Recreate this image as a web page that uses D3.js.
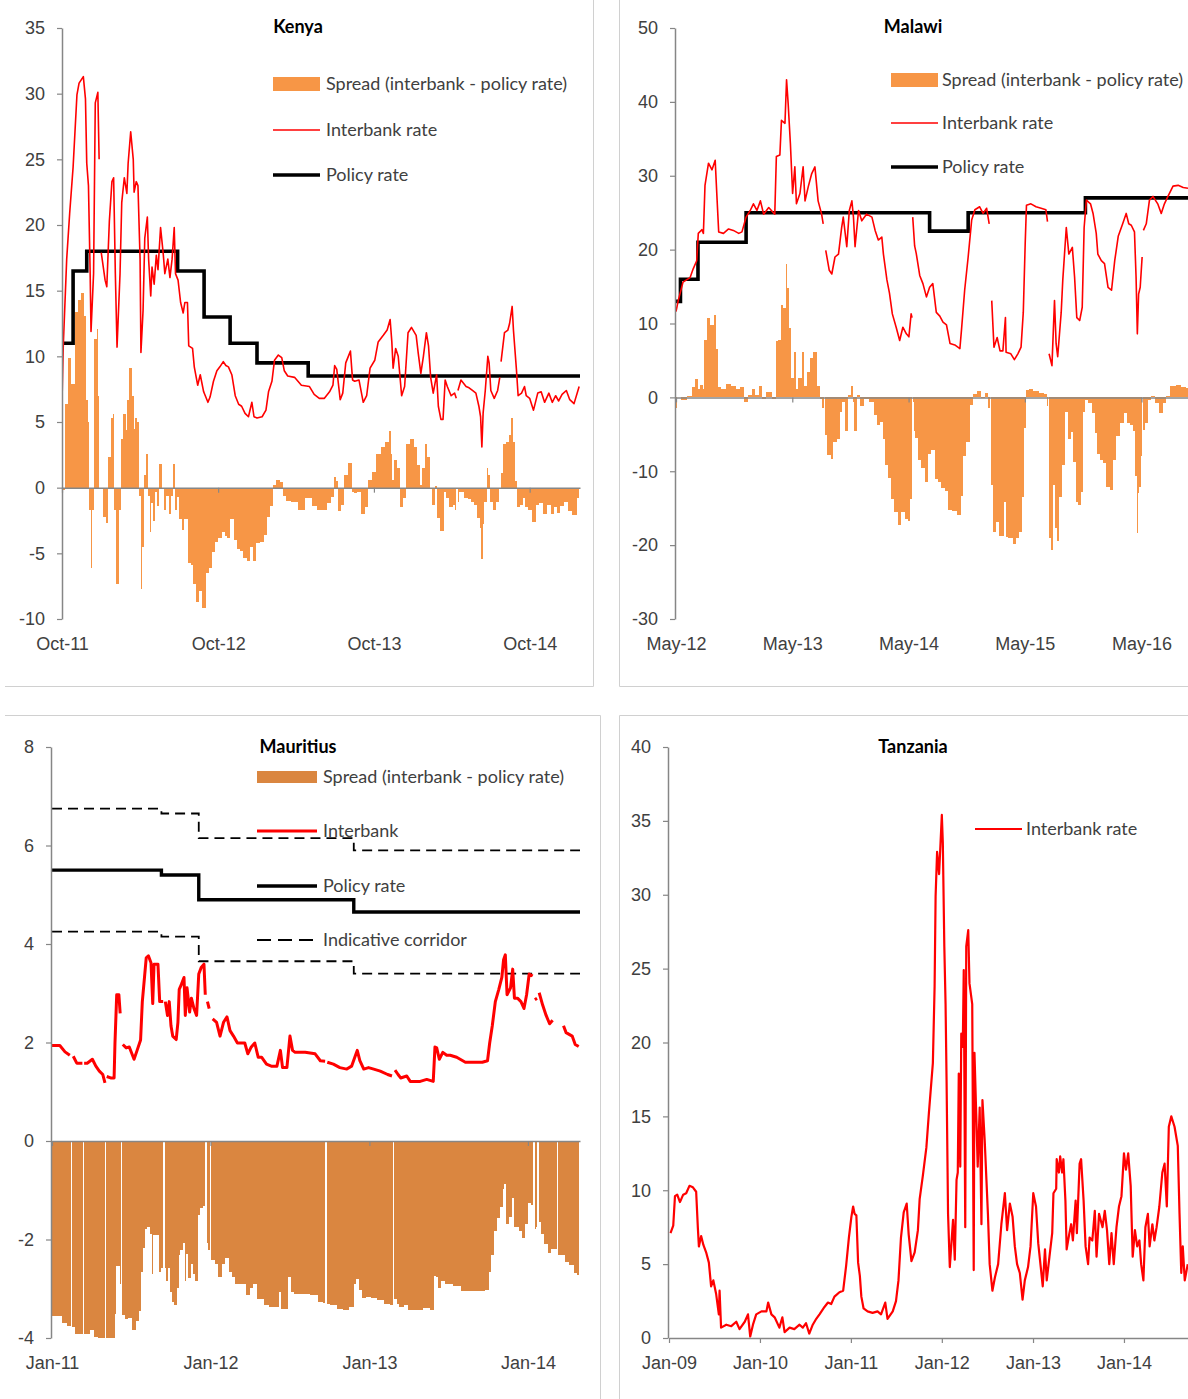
<!DOCTYPE html>
<html>
<head>
<meta charset="utf-8">
<script src="https://cdnjs.cloudflare.com/ajax/libs/d3/7.8.5/d3.min.js"></script>
<style>
  body { margin: 0; background: #fff; }
  svg { display: block; font-family: Lato, "Open Sans", sans-serif; }
</style>
</head>
<body>
<svg id="chart" width="1188" height="1399"></svg>
<script>
// ---------- data ----------
const kenyaInterbank = [
  ["2011-10-01",6.6],["2011-10-04",10.8],["2011-10-12",17.4],["2011-10-19",20.9],["2011-10-27",24.4],
  ["2011-11-05",29.9],["2011-11-10",30.8],["2011-11-20",31.3],["2011-11-25",29.6],["2011-11-28",24.7],
  ["2011-12-02",23.0],["2011-12-06",16.3],["2011-12-08",11.9],["2011-12-14",16.3],["2011-12-18",29.3],
  ["2011-12-24",30.1],["2011-12-27",25.0],["2011-12-29",null],["2012-01-01",17.9],["2012-01-10",15.8],
  ["2012-01-14",15.3],["2012-01-20",20.3],["2012-01-26",23.3],["2012-01-30",23.6],["2012-02-03",16.3],
  ["2012-02-07",10.7],["2012-02-14",16.3],["2012-02-18",21.7],["2012-02-24",23.6],["2012-03-01",22.4],
  ["2012-03-04",24.7],["2012-03-10",27.1],["2012-03-16",25.0],["2012-03-18",22.5],["2012-03-23",23.3],
  ["2012-03-27",23.0],["2012-04-01",17.4],["2012-04-03",10.3],["2012-04-08",13.5],["2012-04-12",19.0],
  ["2012-04-18",20.6],["2012-04-21",17.4],["2012-04-26",14.6],["2012-04-29",16.8],["2012-05-04",15.5],
  ["2012-05-09",17.7],["2012-05-13",16.6],["2012-05-19",19.8],["2012-05-25",17.9],["2012-05-29",16.3],
  ["2012-06-05",17.4],["2012-06-10",16.0],["2012-06-15",17.4],["2012-06-20",19.8],["2012-06-23",16.3],
  ["2012-06-29",15.8],["2012-07-05",14.1],["2012-07-11",13.3],["2012-07-15",14.1],["2012-07-21",14.1],
  ["2012-07-24",10.8],["2012-08-02",10.6],["2012-08-06",9.2],["2012-08-14",7.8],["2012-08-20",8.6],
  ["2012-08-28",7.3],["2012-09-07",6.5],["2012-09-12",6.9],["2012-09-20",8.1],["2012-09-28",8.9],
  ["2012-10-05",9.2],["2012-10-13",9.6],["2012-10-19",9.3],["2012-10-25",9.2],["2012-11-02",8.6],
  ["2012-11-10",7.0],["2012-11-18",6.35],["2012-11-25",6.2],["2012-12-03",5.66],["2012-12-11",5.4],
  ["2012-12-19",6.5],["2012-12-24",5.4],["2012-12-31",5.3],["2013-01-12",5.4],["2013-01-21",5.9],
  ["2013-01-27",7.3],["2013-02-04",8.1],["2013-02-10",9.7],["2013-02-19",10.1],["2013-02-27",9.9],
  ["2013-03-05",8.9],["2013-03-13",8.5],["2013-03-29",8.4],["2013-04-14",7.8],["2013-05-03",7.7],
  ["2013-05-14",7.1],["2013-05-26",6.8],["2013-06-07",6.8],["2013-06-19",7.3],["2013-06-27",7.8],
  ["2013-07-01",9.3],["2013-07-06",9.0],["2013-07-14",6.7],["2013-07-20",7.2],["2013-07-27",9.5],
  ["2013-08-07",10.4],["2013-08-12",8.2],["2013-08-17",8.1],["2013-08-27",8.2],["2013-09-06",6.5],
  ["2013-09-14",7.0],["2013-09-22",9.1],["2013-10-03",9.7],["2013-10-11",11.1],["2013-10-23",11.6],
  ["2013-11-01",12.0],["2013-11-08",12.8],["2013-11-12",11.1],["2013-11-15",9.1],["2013-11-21",10.6],
  ["2013-11-27",10.0],["2013-12-05",7.0],["2013-12-12",7.7],["2013-12-20",11.8],["2013-12-28",12.2],
  ["2014-01-08",11.6],["2014-01-13",10.2],["2014-01-19",8.7],["2014-01-25",10.0],["2014-02-01",11.8],
  ["2014-02-06",10.8],["2014-02-11",8.4],["2014-02-17",7.2],["2014-02-25",8.6],["2014-03-01",6.2],
  ["2014-03-07",5.2],["2014-03-12",5.2],["2014-03-17",8.2],["2014-03-22",7.7],["2014-03-31",7.0],
  ["2014-04-08",7.2],["2014-04-12",6.8],["2014-04-14",null],["2014-04-16",7.4],["2014-04-23",8.2],
  ["2014-05-05",7.7],["2014-05-12",7.6],["2014-05-20",7.4],["2014-05-28",7.2],["2014-06-04",6.2],
  ["2014-06-08",5.4],["2014-06-11",3.1],["2014-06-14",5.7],["2014-06-19",7.4],["2014-06-25",10.0],
  ["2014-06-28",9.5],["2014-07-02",7.4],["2014-07-10",6.8],["2014-07-18",7.4],["2014-07-23",8.4],
  ["2014-07-24",null],["2014-07-26",9.6],["2014-08-03",11.8],["2014-08-11",12.0],["2014-08-15",12.5],
  ["2014-08-21",13.8],["2014-08-24",12.0],["2014-08-31",9.0],["2014-09-04",7.0],["2014-09-12",7.2],
  ["2014-09-19",7.7],["2014-09-23",7.0],["2014-10-01",6.8],["2014-10-10",5.9],["2014-10-20",7.2],
  ["2014-10-28",7.3],["2014-11-05",6.5],["2014-11-15",7.2],["2014-11-23",6.5],["2014-12-01",7.0],
  ["2014-12-08",6.6],["2014-12-16",7.1],["2014-12-26",7.4],["2015-01-03",6.7],["2015-01-13",6.4],
  ["2015-01-25",7.7]
];
const kenyaPolicy = [
  ["2011-10-01",11],["2011-10-27",16.5],["2011-11-28",18],["2012-06-28",16.5],["2012-08-29",13],
  ["2012-10-29",11],["2012-12-31",9.5],["2013-04-30",8.5],["2015-01-27",8.5]
];

const malawiInterbank = [
  ["2012-05-01",11.6],["2012-05-08",13.1],["2012-05-23",15.6],["2012-06-14",16.2],["2012-06-24",17.4],
  ["2012-07-05",18.5],["2012-07-10",22.2],["2012-07-21",22.7],["2012-07-26",22.2],["2012-07-31",28.7],
  ["2012-08-11",31.7],["2012-08-22",30.8],["2012-09-01",32.1],["2012-09-06",27.6],["2012-09-12",22.4],
  ["2012-09-27",22.2],["2012-10-13",22.8],["2012-10-28",22.6],["2012-11-14",22.2],["2012-11-24",22.4],
  ["2012-12-07",24.4],["2012-12-20",25.3],["2012-12-30",26.2],["2013-01-10",25.3],["2013-01-21",26.6],
  ["2013-01-31",24.8],["2013-02-16",25.7],["2013-03-07",24.8],["2013-03-12",32.6],["2013-03-23",32.8],
  ["2013-03-28",37.5],["2013-04-08",37.1],["2013-04-13",43.0],["2013-04-18",39.8],["2013-04-25",34.4],
  ["2013-05-02",27.6],["2013-05-09",31.2],["2013-05-14",26.2],["2013-05-25",27.6],["2013-06-04",31.2],
  ["2013-06-10",26.6],["2013-06-20",28.5],["2013-07-01",30.3],["2013-07-11",31.2],["2013-07-21",26.6],
  ["2013-08-01",24.8],["2013-08-06",23.5],["2013-08-09",null],["2013-08-14",19.9],["2013-08-25",17.2],
  ["2013-09-02",16.7],["2013-09-12",19.0],["2013-09-23",19.4],["2013-10-03",23.0],["2013-10-08",24.4],
  ["2013-10-19",20.4],["2013-10-27",25.3],["2013-11-04",26.6],["2013-11-09",24.4],["2013-11-14",20.4],
  ["2013-11-25",25.3],["2013-12-05",23.9],["2013-12-20",24.8],["2014-01-06",24.4],["2014-01-16",22.6],
  ["2014-01-26",21.3],["2014-02-06",21.7],["2014-02-11",19.4],["2014-02-22",15.9],["2014-03-02",14.1],
  ["2014-03-11",11.3],["2014-03-23",9.5],["2014-04-03",7.7],["2014-04-13",9.5],["2014-04-24",8.6],
  ["2014-05-02",8.2],["2014-05-09",11.3],["2014-05-12",10.8],["2014-05-13",null],["2014-05-14",24.4],
  ["2014-05-20",20.5],["2014-05-25",19.5],["2014-06-05",16.5],["2014-06-15",15.4],["2014-06-26",13.6],
  ["2014-07-06",14.9],["2014-07-16",15.4],["2014-07-27",11.5],["2014-08-07",11.0],["2014-08-17",10.2],
  ["2014-08-28",9.8],["2014-09-08",7.3],["2014-09-23",7.1],["2014-10-09",6.6],["2014-10-14",9.1],
  ["2014-10-24",14.5],["2014-11-04",19.0],["2014-11-15",24.0],["2014-11-25",25.4],["2014-12-10",25.8],
  ["2014-12-21",24.9],["2015-01-01",25.6],["2015-01-09",23.5],["2015-01-12",null],["2015-01-17",13.1],
  ["2015-01-24",6.8],["2015-02-03",8.1],["2015-02-12",6.3],["2015-02-21",6.3],["2015-03-01",10.8],
  ["2015-03-03",6.1],["2015-03-18",5.9],["2015-03-29",5.1],["2015-04-09",5.9],["2015-04-19",6.8],
  ["2015-04-26",11.5],["2015-05-02",20.8],["2015-05-06",26.0],["2015-05-20",26.2],["2015-06-05",25.8],
  ["2015-06-21",25.6],["2015-07-06",25.4],["2015-07-11",23.8],["2015-07-13",null],["2015-07-16",5.9],
  ["2015-07-25",4.3],["2015-08-02",13.1],["2015-08-07",7.3],["2015-08-12",5.5],["2015-08-23",11.5],
  ["2015-08-28",15.9],["2015-09-08",23.0],["2015-09-16",19.4],["2015-09-27",20.3],["2015-10-04",16.3],
  ["2015-10-11",10.8],["2015-10-20",10.4],["2015-10-28",12.2],["2015-11-03",23.0],["2015-11-10",26.7],
  ["2015-11-23",26.2],["2015-12-01",24.9],["2015-12-11",22.2],["2015-12-16",19.4],["2015-12-27",18.5],
  ["2016-01-06",18.1],["2016-01-17",14.9],["2016-01-28",14.5],["2016-02-07",18.5],["2016-02-18",21.8],
  ["2016-03-03",23.5],["2016-03-14",24.9],["2016-03-22",23.5],["2016-03-30",23.3],["2016-04-09",22.4],
  ["2016-04-14",16.3],["2016-04-18",8.6],["2016-04-22",14.0],["2016-04-27",14.9],["2016-05-03",19.0],
  ["2016-05-05",null],["2016-05-07",22.6],["2016-05-16",23.5],["2016-05-26",26.7],["2016-06-06",27.2],
  ["2016-06-21",26.2],["2016-07-02",24.9],["2016-07-12",26.2],["2016-07-23",27.2],["2016-08-08",28.6],
  ["2016-08-24",28.7],["2016-09-09",28.4],["2016-09-24",28.3]
];
const malawiPolicy = [
  ["2012-05-01",13],["2012-05-15",16],["2012-07-09",21],["2012-12-07",25],["2014-07-06",22.5],
  ["2014-11-04",25],["2015-11-07",27],["2016-09-30",27]
];

const mauritiusInterbank = [
  ["2011-01-01",1.94],["2011-01-19",1.94],["2011-01-31",1.81],["2011-02-11",1.74],["2011-02-15",null],
  ["2011-02-19",1.72],["2011-02-27",1.58],["2011-03-12",1.58],["2011-03-14",null],["2011-03-16",1.58],
  ["2011-03-23",1.58],["2011-04-04",1.66],["2011-04-12",1.52],["2011-04-20",1.42],["2011-04-28",1.35],
  ["2011-05-03",1.18],["2011-05-05",null],["2011-05-07",1.31],["2011-05-16",1.28],["2011-05-24",1.28],
  ["2011-05-26",1.98],["2011-05-30",2.97],["2011-06-04",2.97],["2011-06-07",2.59],["2011-06-10",null],
  ["2011-06-13",1.96],["2011-06-21",1.89],["2011-06-28",1.91],["2011-07-09",1.66],["2011-07-16",1.84],
  ["2011-07-24",2.05],["2011-07-28",2.83],["2011-08-02",3.32],["2011-08-06",3.72],["2011-08-11",3.76],
  ["2011-08-17",3.62],["2011-08-21",2.79],["2011-08-24",3.59],["2011-09-02",3.59],["2011-09-06",2.83],
  ["2011-09-14",2.83],["2011-09-16",null],["2011-09-19",2.83],["2011-09-24",2.55],["2011-09-28",2.83],
  ["2011-10-02",2.34],["2011-10-06",2.13],["2011-10-14",2.06],["2011-10-18",2.41],["2011-10-21",3.08],
  ["2011-10-26",3.18],["2011-11-01",3.32],["2011-11-04",2.55],["2011-11-08",3.11],["2011-11-14",2.62],
  ["2011-11-18",2.90],["2011-11-24",2.69],["2011-11-30",2.55],["2011-12-05",3.39],["2011-12-11",3.53],
  ["2011-12-17",3.59],["2011-12-20",2.97],["2011-12-22",null],["2011-12-25",2.83],["2011-12-29",2.69],
  ["2012-01-01",null],["2012-01-06",2.48],["2012-01-15",2.41],["2012-01-23",2.13],["2012-01-31",2.41],
  ["2012-02-08",2.52],["2012-02-15",2.24],["2012-02-23",2.13],["2012-03-03",1.99],["2012-03-12",1.99],
  ["2012-03-20",1.99],["2012-03-27",1.77],["2012-04-04",1.91],["2012-04-12",1.99],["2012-04-20",1.70],
  ["2012-04-28",1.70],["2012-05-09",1.56],["2012-05-20",1.52],["2012-06-02",1.52],["2012-06-10",1.84],
  ["2012-06-15",1.49],["2012-06-25",1.49],["2012-07-02",2.13],["2012-07-08",1.84],["2012-07-14",1.80],
  ["2012-08-06",1.80],["2012-08-29",1.77],["2012-09-10",1.63],["2012-09-21",1.62],["2012-09-23",null],
  ["2012-09-26",1.60],["2012-10-10",1.56],["2012-10-25",1.49],["2012-11-10",1.46],["2012-11-21",1.52],
  ["2012-11-30",1.74],["2012-12-04",1.84],["2012-12-10",1.63],["2012-12-19",1.46],["2012-12-30",1.49],
  ["2013-01-11",1.46],["2013-01-26",1.42],["2013-02-12",1.35],["2013-02-22",1.32],["2013-02-26",null],
  ["2013-03-01",1.44],["2013-03-08",1.35],["2013-03-14",1.28],["2013-03-28",1.32],["2013-04-05",1.21],
  ["2013-04-28",1.21],["2013-05-13",1.25],["2013-05-28",1.21],["2013-06-01",1.91],["2013-06-05",1.89],
  ["2013-06-11",1.66],["2013-06-19",1.80],["2013-06-28",1.74],["2013-07-06",1.74],["2013-07-21",1.70],
  ["2013-08-10",1.60],["2013-08-29",1.60],["2013-09-18",1.60],["2013-09-30",1.63],["2013-10-05",1.99],
  ["2013-10-11",2.34],["2013-10-18",2.83],["2013-10-26",3.08],["2013-11-02",3.32],["2013-11-06",3.68],
  ["2013-11-10",3.78],["2013-11-14",2.97],["2013-11-22",3.11],["2013-11-27",3.49],["2013-12-01",2.90],
  ["2013-12-08",2.90],["2013-12-16",2.83],["2013-12-23",2.69],["2013-12-29",2.97],["2014-01-04",3.39],
  ["2014-01-12",3.35],["2014-01-15",null],["2014-01-17",2.87],["2014-01-22",2.90],["2014-01-24",null],
  ["2014-01-27",3.01],["2014-02-04",2.76],["2014-02-12",2.55],["2014-02-20",2.38],["2014-02-27",2.45],
  ["2014-03-10",null],["2014-03-24",2.34],["2014-03-30",2.20],["2014-04-13",2.13],["2014-04-20",1.96],
  ["2014-04-28",1.92]
];
const mauritiusPolicy = [
  ["2011-01-01",5.5],["2011-09-10",5.4],["2011-12-05",4.9],["2012-11-26",4.65],["2014-05-01",4.65]
];
const mauritiusCorridorUpper = [
  ["2011-01-01",6.75],["2011-09-10",6.65],["2011-12-05",6.15],["2012-11-26",5.9],["2014-05-01",5.9]
];
const mauritiusCorridorLower = [
  ["2011-01-01",4.25],["2011-09-10",4.15],["2011-12-05",3.65],["2012-11-26",3.4],["2014-05-01",3.4]
];

const tanzaniaInterbank = [
  ["2009-01-07",7.1],["2009-01-18",7.6],["2009-01-25",9.6],["2009-02-03",9.7],["2009-02-14",9.2],
  ["2009-02-27",9.7],["2009-03-11",9.8],["2009-03-24",10.3],["2009-04-07",10.2],["2009-04-20",9.9],
  ["2009-04-27",7.4],["2009-05-01",6.2],["2009-05-10",6.9],["2009-05-19",6.3],["2009-05-30",5.8],
  ["2009-06-10",5.1],["2009-06-19",3.5],["2009-06-28",3.9],["2009-07-09",3.0],["2009-07-20",1.6],
  ["2009-07-23",3.2],["2009-07-29",0.7],["2009-08-19",0.9],["2009-09-08",0.8],["2009-09-28",1.1],
  ["2009-10-11",0.6],["2009-11-01",1.1],["2009-11-14",1.6],["2009-11-23",0.1],["2009-12-04",0.9],
  ["2009-12-17",1.6],["2010-01-07",1.8],["2010-01-27",1.8],["2010-02-03",2.4],["2010-02-16",1.6],
  ["2010-03-01",1.4],["2010-03-20",0.7],["2010-04-01",1.4],["2010-04-10",0.4],["2010-04-30",0.7],
  ["2010-05-19",0.6],["2010-06-09",0.9],["2010-06-22",0.7],["2010-07-05",1.0],["2010-07-18",0.3],
  ["2010-08-01",0.9],["2010-08-15",1.3],["2010-08-28",1.6],["2010-09-17",2.1],["2010-10-01",2.4],
  ["2010-10-14",2.3],["2010-10-27",2.8],["2010-11-16",3.1],["2010-12-01",3.2],["2010-12-13",4.9],
  ["2010-12-24",6.8],["2011-01-03",8.2],["2011-01-10",8.9],["2011-01-16",8.4],["2011-01-23",8.3],
  ["2011-01-30",5.1],["2011-02-06",4.2],["2011-02-12",2.8],["2011-02-21",2.0],["2011-03-09",1.8],
  ["2011-03-29",1.7],["2011-04-18",1.8],["2011-05-02",1.6],["2011-05-19",2.4],["2011-05-28",1.3],
  ["2011-06-18",1.8],["2011-07-01",2.5],["2011-07-11",3.9],["2011-07-21",6.8],["2011-08-01",8.5],
  ["2011-08-13",9.1],["2011-08-21",7.0],["2011-09-01",5.2],["2011-09-14",5.8],["2011-09-27",7.3],
  ["2011-10-04",9.4],["2011-10-17",11.0],["2011-10-31",12.9],["2011-11-10",15.2],["2011-11-26",18.6],
  ["2011-12-03",23.8],["2011-12-07",29.9],["2011-12-13",32.9],["2011-12-21",31.4],["2012-01-01",35.4],
  ["2012-01-05",33.5],["2012-01-11",26.5],["2012-01-16",22.6],["2012-01-20",17.5],["2012-01-26",8.4],
  ["2012-02-02",4.8],["2012-02-15",8.0],["2012-02-22",5.3],["2012-02-29",10.7],["2012-03-05",11.2],
  ["2012-03-09",17.9],["2012-03-15",11.6],["2012-03-19",20.6],["2012-03-25",19.7],["2012-03-29",24.9],
  ["2012-04-04",7.5],["2012-04-08",26.5],["2012-04-16",27.6],["2012-04-21",24.0],["2012-05-02",22.6],
  ["2012-05-08",4.6],["2012-05-11",19.3],["2012-05-18",15.2],["2012-05-24",11.6],["2012-06-01",15.6],
  ["2012-06-08",7.7],["2012-06-12",16.1],["2012-06-21",13.4],["2012-06-28",10.7],["2012-07-04",8.4],
  ["2012-07-11",5.0],["2012-07-22",3.2],["2012-08-01",4.1],["2012-08-14",5.0],["2012-08-27",7.7],
  ["2012-09-10",9.8],["2012-09-19",7.3],["2012-09-30",9.1],["2012-10-11",8.2],["2012-10-20",6.2],
  ["2012-10-29",5.0],["2012-11-09",4.4],["2012-11-20",2.6],["2012-11-29",3.9],["2012-12-12",4.8],
  ["2012-12-22",6.2],["2013-01-02",9.8],["2013-01-13",8.9],["2013-01-22",6.4],["2013-02-01",4.8],
  ["2013-02-09",3.5],["2013-02-18",6.0],["2013-02-25",3.9],["2013-03-08",5.5],["2013-03-19",7.1],
  ["2013-03-24",9.8],["2013-04-04",10.1],["2013-04-06",12.1],["2013-04-15",11.2],["2013-04-20",12.3],
  ["2013-04-28",11.2],["2013-05-03",12.1],["2013-05-11",9.3],["2013-05-16",6.0],["2013-05-27",7.1],
  ["2013-06-03",7.7],["2013-06-10",6.6],["2013-06-21",9.3],["2013-06-26",7.1],["2013-07-07",11.8],
  ["2013-07-13",12.1],["2013-07-23",9.3],["2013-07-31",6.2],["2013-08-10",5.0],["2013-08-16",6.8],
  ["2013-08-27",6.6],["2013-09-06",8.6],["2013-09-13",5.5],["2013-09-23",8.4],["2013-10-07",7.5],
  ["2013-10-16",8.6],["2013-10-25",7.3],["2013-11-03",5.0],["2013-11-12",7.1],["2013-11-21",5.0],
  ["2013-12-02",7.5],["2013-12-12",8.9],["2013-12-22",9.6],["2014-01-01",12.5],["2014-01-09",11.4],
  ["2014-01-18",12.5],["2014-01-28",10.3],["2014-02-05",5.5],["2014-02-14",7.3],["2014-02-23",6.2],
  ["2014-03-04",6.6],["2014-03-11",5.0],["2014-03-20",3.9],["2014-03-28",7.5],["2014-04-07",8.4],
  ["2014-04-14",6.2],["2014-04-25",7.7],["2014-05-03",6.6],["2014-05-12",7.5],["2014-05-23",8.9],
  ["2014-06-04",11.2],["2014-06-13",11.8],["2014-06-22",8.9],["2014-06-30",14.3],["2014-07-10",15.0],
  ["2014-07-23",14.3],["2014-08-05",13.0],["2014-08-12",8.4],["2014-08-19",4.4],["2014-08-25",6.2],
  ["2014-09-02",3.9],["2014-09-14",5.0]
];

// tick values and labels
const kenyaXTicks = ["2011-10-01","2012-10-01","2013-10-01","2014-10-01"];
const kenyaXLabels = ["Oct-11","Oct-12","Oct-13","Oct-14"];
const kenyaYTicks = [-10,-5,0,5,10,15,20,25,30,35];
const malawiXTicks = ["2012-05-01","2013-05-01","2014-05-01","2015-05-01","2016-05-01"];
const malawiXLabels = ["May-12","May-13","May-14","May-15","May-16"];
const malawiYTicks = [-30,-20,-10,0,10,20,30,40,50];
const mauritiusXTicks = ["2011-01-01","2012-01-01","2013-01-01","2014-01-01"];
const mauritiusXLabels = ["Jan-11","Jan-12","Jan-13","Jan-14"];
const mauritiusYTicks = [-4,-2,0,2,4,6,8];
const tanzaniaXTicks = ["2009-01-01","2010-01-01","2011-01-01","2012-01-01","2013-01-01","2014-01-01"];
const tanzaniaXLabels = ["Jan-09","Jan-10","Jan-11","Jan-12","Jan-13","Jan-14"];
const tanzaniaYTicks = [0,5,10,15,20,25,30,35,40];

// ---------- helpers ----------
const parseDate = d3.timeParse("%Y-%m-%d");
const DAY = 864e5;
const axisGray = "#868686";
const textColor = "#404040";
const fontSize = 18;
const svg = d3.select("#chart");

function toSeries(rows) {
  return rows.map(([d, v]) => ({ date: parseDate(d), value: v }));
}

function policyAt(policy, date) {
  const i = d3.bisector(d => d.date).right(policy, date) - 1;
  return policy[Math.max(0, i)].value;
}

// one bar per interbank observation, spread = interbank - policy rate
function spreadBars(ib, policy) {
  const bars = [];
  ib.forEach((d, i) => {
    if (d.value == null) return;
    const prev = ib[i - 1], next = ib[i + 1];
    let x0 = d.date, x1 = d.date;
    if (prev) x0 = prev.value == null ? new Date(Math.min(+d.date, +prev.date + 1.5 * DAY)) : new Date((+prev.date + +d.date) / 2);
    if (next) x1 = next.value == null ? new Date(Math.max(+d.date, +next.date - 1.5 * DAY)) : new Date((+next.date + +d.date) / 2);
    bars.push({ x0, x1, value: d.value - policyAt(policy, d.date) });
  });
  return bars;
}

function drawPanel(p) {
  const g = svg.append("g");
  const x = d3.scaleTime().domain(p.xDomain.map(parseDate)).range([p.left, p.right]);
  const y = d3.scaleLinear().domain(p.yDomain).range([p.bottom, p.top]);

  const clipId = "clip-" + p.id;
  svg.append("clipPath").attr("id", clipId)
    .append("rect")
      .attr("x", p.axisX)
      .attr("y", p.top - 3)
      .attr("width", p.right - p.axisX + 1)
      .attr("height", p.bottom - p.top + 3);

  const plot = g.append("g").attr("clip-path", `url(#${clipId})`);
  const interbank = toSeries(p.interbank);
  const policy = p.policy ? toSeries(p.policy) : null;

  if (p.spreadColor) {
    plot.append("g")
      .attr("fill", p.spreadColor)
      .attr("shape-rendering", "crispEdges")
      .selectAll("rect")
      .data(spreadBars(interbank, policy))
      .join("rect")
        .attr("x", d => x(d.x0))
        .attr("width", d => Math.max(0, x(d.x1) - x(d.x0)))
        .attr("y", d => Math.min(y(0), y(d.value)))
        .attr("height", d => Math.abs(y(d.value) - y(0)));
  }

  // y axis
  const gy = g.append("g")
    .attr("transform", `translate(${p.axisX},0)`)
    .call(d3.axisLeft(y)
      .tickValues(p.yTicks)
      .tickFormat(d => String(d))
      .tickSize(5).tickSizeOuter(0).tickPadding(12));
  gy.select(".domain").attr("stroke", axisGray).attr("stroke-width", 1.5);
  gy.selectAll(".tick line").attr("stroke", axisGray).attr("stroke-width", 1.2);
  gy.selectAll(".tick text").attr("fill", textColor).attr("font-size", fontSize).attr("font-family", null);

  // x axis sits on the zero line, labels are dropped to the bottom
  const y0 = y(0);
  const gx = g.append("g")
    .attr("transform", `translate(0,${y0})`)
    .call(d3.axisBottom(x)
      .tickValues(p.xTicks.map(parseDate))
      .tickFormat((d, i) => p.xLabels[i])
      .tickSize(5).tickSizeOuter(0));
  gx.select(".domain").attr("stroke", axisGray).attr("stroke-width", 1.5);
  gx.selectAll(".tick line").attr("stroke", axisGray).attr("stroke-width", 1.2);
  gx.selectAll(".tick text")
    .attr("fill", textColor).attr("font-size", fontSize).attr("font-family", null)
    .attr("y", p.labelY - y0).attr("dy", "0.35em");

  const line = d3.line()
    .defined(d => d.value != null)
    .x(d => x(d.date))
    .y(d => y(d.value));
  const step = d3.line().curve(d3.curveStepAfter).x(d => x(d.date)).y(d => y(d.value));

  if (p.corridor) {
    p.corridor.forEach(c => {
      plot.append("path")
        .datum(toSeries(c))
        .attr("fill", "none")
        .attr("stroke", "#000")
        .attr("stroke-width", 1.8)
        .attr("stroke-dasharray", "10,6")
        .attr("d", step);
    });
  }
  if (policy) {
    plot.append("path")
      .datum(policy)
      .attr("fill", "none")
      .attr("stroke", "#000")
      .attr("stroke-width", p.policyWidth)
      .attr("d", step);
  }
  plot.append("path")
    .datum(interbank)
    .attr("fill", "none")
    .attr("stroke", "#ff0000")
    .attr("stroke-width", p.ibWidth)
    .attr("stroke-linejoin", "round")
    .attr("d", line);

  // title
  g.append("text")
    .attr("x", p.titleX).attr("y", p.titleY)
    .attr("text-anchor", "middle").attr("dy", "0.35em")
    .attr("font-size", fontSize).attr("font-weight", "bold").attr("fill", "#000")
    .text(p.title);

  // legend
  const lg = g.append("g");
  p.legend.forEach(item => {
    if (item.type === "bar") {
      lg.append("rect")
        .attr("x", p.legendX0).attr("y", item.y - item.h / 2)
        .attr("width", p.legendX1 - p.legendX0).attr("height", item.h)
        .attr("fill", p.spreadColor);
    } else {
      lg.append("line")
        .attr("x1", p.legendX0).attr("x2", p.legendX1)
        .attr("y1", item.y).attr("y2", item.y)
        .attr("stroke", item.color)
        .attr("stroke-width", item.width)
        .attr("stroke-dasharray", item.dash || null);
    }
    lg.append("text")
      .attr("x", p.legendTextX).attr("y", item.y).attr("dy", "0.35em")
      .attr("font-size", fontSize).attr("fill", textColor)
      .text(item.label);
  });
}

// ---------- panel frames ----------
const frame = svg.append("g").attr("stroke", "#d0d0d0").attr("stroke-width", 1).attr("fill", "none");
frame.append("path").attr("d", "M5,686.5H593.5V0");
frame.append("path").attr("d", "M619.5,0V686.5H1188");
frame.append("path").attr("d", "M5,715.5H600.5V1399");
frame.append("path").attr("d", "M619.5,1399V715.5H1188");

// ---------- panels ----------
drawPanel({
  id: "kenya", title: "Kenya", titleX: 298, titleY: 27,
  xDomain: ["2011-10-01", "2015-01-27"], left: 62, right: 580, axisX: 62,
  yDomain: [-10, 35], top: 28, bottom: 619, labelY: 644,
  xTicks: kenyaXTicks, xLabels: kenyaXLabels, yTicks: kenyaYTicks,
  interbank: kenyaInterbank, policy: kenyaPolicy,
  spreadColor: "#f79646", ibWidth: 1.6, policyWidth: 3.6,
  legendX0: 273, legendX1: 320, legendTextX: 326,
  legend: [
    { type: "bar", y: 84, h: 14, label: "Spread (interbank - policy rate)" },
    { type: "line", y: 130, color: "#ff0000", width: 1.6, label: "Interbank rate" },
    { type: "line", y: 175, color: "#000", width: 3.6, label: "Policy rate" }
  ]
});

drawPanel({
  id: "malawi", title: "Malawi", titleX: 913, titleY: 27,
  xDomain: ["2012-05-01", "2016-09-24"], left: 676, right: 1188, axisX: 675,
  yDomain: [-30, 50], top: 28, bottom: 619, labelY: 644,
  xTicks: malawiXTicks, xLabels: malawiXLabels, yTicks: malawiYTicks,
  interbank: malawiInterbank, policy: malawiPolicy,
  spreadColor: "#f79646", ibWidth: 1.6, policyWidth: 3.6,
  legendX0: 891, legendX1: 938, legendTextX: 942,
  legend: [
    { type: "bar", y: 80, h: 14, label: "Spread (interbank - policy rate)" },
    { type: "line", y: 123, color: "#ff0000", width: 1.6, label: "Interbank rate" },
    { type: "line", y: 167, color: "#000", width: 3.6, label: "Policy rate" }
  ]
});

drawPanel({
  id: "mauritius", title: "Mauritius", titleX: 298, titleY: 747,
  xDomain: ["2011-01-01", "2014-05-01"], left: 52, right: 580, axisX: 51,
  yDomain: [-4, 8], top: 747, bottom: 1338, labelY: 1363,
  xTicks: mauritiusXTicks, xLabels: mauritiusXLabels, yTicks: mauritiusYTicks,
  interbank: mauritiusInterbank, policy: mauritiusPolicy,
  corridor: [mauritiusCorridorUpper, mauritiusCorridorLower],
  spreadColor: "#da8640", ibWidth: 3, policyWidth: 3.4,
  legendX0: 257, legendX1: 317, legendTextX: 323,
  legend: [
    { type: "bar", y: 777, h: 12, label: "Spread (interbank - policy rate)" },
    { type: "line", y: 831, color: "#ff0000", width: 3, label: "Interbank" },
    { type: "line", y: 886, color: "#000", width: 3.4, label: "Policy rate" },
    { type: "line", y: 940, color: "#000", width: 1.8, dash: "14,7", label: "Indicative corridor" }
  ]
});

drawPanel({
  id: "tanzania", title: "Tanzania", titleX: 913, titleY: 747,
  xDomain: ["2009-01-01", "2014-09-15"], left: 669, right: 1188, axisX: 668,
  yDomain: [0, 40], top: 747, bottom: 1338, labelY: 1363,
  xTicks: tanzaniaXTicks, xLabels: tanzaniaXLabels, yTicks: tanzaniaYTicks,
  interbank: tanzaniaInterbank, policy: null,
  spreadColor: null, ibWidth: 2.2, policyWidth: 0,
  legendX0: 975, legendX1: 1022, legendTextX: 1026,
  legend: [
    { type: "line", y: 829, color: "#ff0000", width: 2.2, label: "Interbank rate" }
  ]
});
</script>
</body>
</html>
